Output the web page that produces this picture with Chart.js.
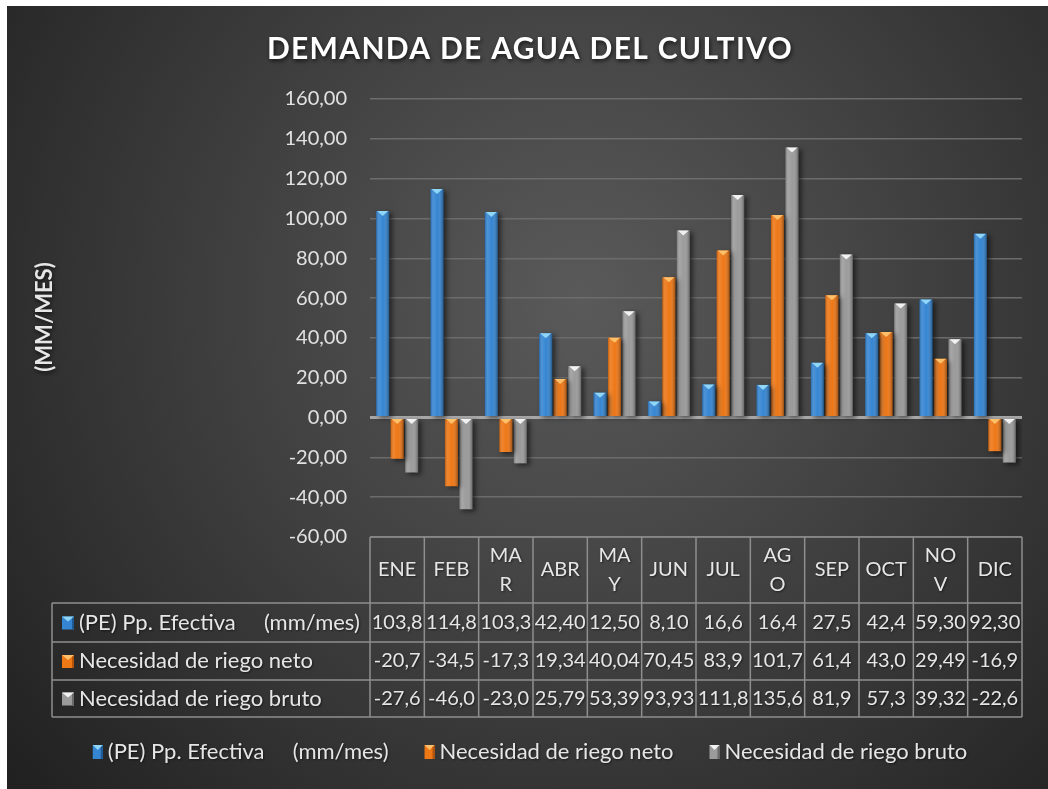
<!DOCTYPE html>
<html>
<head>
<meta charset="utf-8">
<script src="https://cdn.jsdelivr.net/npm/chart.js@4/dist/chart.umd.min.js"></script>
<style>
  body { margin: 0; background: #fff; }
  canvas { display: block; }
</style>
</head>
<body>
<canvas id="demandaChart" width="1048" height="789"></canvas>
<script>
// Datos del grafico
const meses = ['ENE', 'FEB', 'MAR', 'ABR', 'MAY', 'JUN', 'JUL', 'AGO', 'SEP', 'OCT', 'NOV', 'DIC'];
const peEfectiva = [103.8, 114.8, 103.3, 42.40, 12.50, 8.10, 16.6, 16.4, 27.5, 42.4, 59.30, 92.30];
const riegoNeto = [-20.7, -34.5, -17.3, 19.34, 40.04, 70.45, 83.9, 101.7, 61.4, 43.0, 29.49, -16.9];
const riegoBruto = [-27.6, -46.0, -23.0, 25.79, 53.39, 93.93, 111.8, 135.6, 81.9, 57.3, 39.32, -22.6];

// Texto tal como aparece en la tabla de datos
const peTexto = ['103,8', '114,8', '103,3', '42,40', '12,50', '8,10', '16,6', '16,4', '27,5', '42,4', '59,30', '92,30'];
const netoTexto = ['-20,7', '-34,5', '-17,3', '19,34', '40,04', '70,45', '83,9', '101,7', '61,4', '43,0', '29,49', '-16,9'];
const brutoTexto = ['-27,6', '-46,0', '-23,0', '25,79', '53,39', '93,93', '111,8', '135,6', '81,9', '57,3', '39,32', '-22,6'];

const series = ['(PE) Pp. Efectiva     (mm/mes)', 'Necesidad de riego neto', 'Necesidad de riego bruto'];
const yTicks = { min: -60, max: 160, step: 20 };

const FONT = 'Lato, "Open Sans", sans-serif';
const colores = [
  { fill: '#3585d2', light: '#8fd6f7', dark: '#1f5a92' },
  { fill: '#ee7716', light: '#ffc06a', dark: '#b4530a' },
  { fill: '#9b9b9b', light: '#f2f2f2', dark: '#6a6a6a' }
];
const lineaTabla = '#8e8e8e';
const colorTexto = '#e6e6e6';

function fmt(v) {
  return v.toFixed(2).replace('.', ',');
}

// Cabeceras de mes que se parten en dos lineas
function cabecera(m) {
  if (['MAR', 'MAY', 'AGO', 'NOV'].includes(m)) return [m.slice(0, 2), m.slice(2)];
  return [m];
}

function marcador(c, x, y, w, h, col) {
  c.fillStyle = col.fill;
  c.fillRect(x, y, w, h);
  c.fillStyle = col.dark;
  c.fillRect(x + w - 2, y, 2, h);
  c.fillStyle = col.light;
  c.beginPath();
  c.moveTo(x, y);
  c.lineTo(x + w, y);
  c.lineTo(x + w / 2, y + 5);
  c.closePath();
  c.fill();
}

const fondoPlugin = {
  id: 'fondo',
  beforeDraw(chart) {
    const c = chart.ctx;
    const W = chart.width, H = chart.height;
    c.save();
    c.fillStyle = '#ffffff';
    c.fillRect(0, 0, W, H);
    const g = c.createRadialGradient(580, 300, 0, 580, 300, 740);
    g.addColorStop(0, '#5a5a5a');
    g.addColorStop(0.5, '#3e3e3e');
    g.addColorStop(1, '#212121');
    c.fillStyle = g;
    c.fillRect(7, 6, W - 7, H - 6);

    // titulo
    c.shadowColor = 'rgba(0,0,0,0.7)';
    c.shadowBlur = 4;
    c.shadowOffsetX = 1;
    c.shadowOffsetY = 2;
    c.fillStyle = '#ffffff';
    c.font = 'bold 30px ' + FONT;
    c.letterSpacing = '1.3px';
    c.textAlign = 'center';
    c.textBaseline = 'middle';
    c.fillText('DEMANDA DE AGUA DEL CULTIVO', 530, 49);
    c.letterSpacing = '0px';

    // titulo eje Y
    c.translate(45, 317);
    c.rotate(-Math.PI / 2);
    c.font = 'bold 22px ' + FONT;
    c.fillStyle = colorTexto;
    c.fillText('(MM/MES)', 0, 0);
    c.restore();
  },
  beforeDatasetsDraw(chart) {
    const c = chart.ctx;
    c.save();
    c.shadowColor = 'rgba(0,0,0,0.55)';
    c.shadowBlur = 5;
    c.shadowOffsetX = 3;
    c.shadowOffsetY = 2;
  },
  afterDatasetsDraw(chart) {
    const c = chart.ctx;
    c.restore();
    c.save();
    chart.data.datasets.forEach((ds, i) => {
      const col = colores[i];
      chart.getDatasetMeta(i).data.forEach(el => {
        const p = el.getProps(['x', 'y', 'base', 'width'], true);
        const l = p.x - p.width / 2, r = p.x + p.width / 2;
        const top = Math.min(p.y, p.base), bot = Math.max(p.y, p.base);
        const g = c.createLinearGradient(l, 0, r, 0);
        g.addColorStop(0, 'rgba(0,0,0,0.18)');
        g.addColorStop(0.2, 'rgba(255,255,255,0.12)');
        g.addColorStop(0.55, 'rgba(255,255,255,0)');
        g.addColorStop(1, 'rgba(0,0,0,0.35)');
        c.fillStyle = g;
        c.fillRect(l, top, p.width, bot - top);
        // bisel superior
        const bh = Math.min(5, bot - top);
        c.fillStyle = col.light;
        c.beginPath();
        c.moveTo(l + 1, top);
        c.lineTo(r - 1, top);
        c.lineTo(p.x, top + bh);
        c.closePath();
        c.fill();
      });
    });
    c.restore();
  },
  afterDraw(chart) {
    const c = chart.ctx;
    const xs = chart.scales.x;
    const area = chart.chartArea;
    const n = meses.length;
    const colW = (area.right - area.left) / n;
    const yTop = area.bottom, yHead = yTop + 66;
    const filas = [yHead, yHead + 39, yHead + 77, yHead + 114];
    const xLeft = 52;

    c.save();
    c.strokeStyle = lineaTabla;
    c.lineWidth = 1.5;
    c.beginPath();
    c.moveTo(area.left, yTop); c.lineTo(area.right, yTop);
    filas.forEach(y => { c.moveTo(xLeft, y); c.lineTo(area.right, y); });
    c.moveTo(xLeft, yHead); c.lineTo(xLeft, filas[3]);
    for (let i = 0; i <= n; i++) {
      const x = area.left + i * colW;
      c.moveTo(x, yTop); c.lineTo(x, filas[3]);
    }
    c.stroke();

    const sombra = () => {
      c.shadowColor = 'rgba(0,0,0,0.5)';
      c.shadowBlur = 2;
      c.shadowOffsetX = 1;
      c.shadowOffsetY = 1;
    };
    const sinSombra = () => { c.shadowColor = 'transparent'; };

    c.fillStyle = colorTexto;
    c.font = '20px ' + FONT;
    c.textAlign = 'center';
    c.textBaseline = 'middle';
    sombra();
    meses.forEach((m, i) => {
      const x = xs.getPixelForValue(i);
      const lines = cabecera(m);
      const mid = (yTop + yHead) / 2;
      if (lines.length === 1) c.fillText(lines[0], x, mid);
      else { c.fillText(lines[0], x, mid - 14); c.fillText(lines[1], x, mid + 15); }
    });
    const textos = [peTexto, netoTexto, brutoTexto];
    textos.forEach((fila, r) => {
      const y = (filas[r] + filas[r + 1]) / 2;
      c.font = '20px ' + FONT;
      c.textAlign = 'center';
      c.fillStyle = colorTexto;
      sombra();
      fila.forEach((t, i) => {
        c.fillText(t, xs.getPixelForValue(i), y);
      });
      c.font = '22px ' + FONT;
      c.textAlign = 'left';
      c.fillText(series[r], 79, y);
      sinSombra();
      marcador(c, 62, y - 6, 12, 13, colores[r]);
    });

    // leyenda
    c.font = '22px ' + FONT;
    const gap = 36, mk = 10, pad = 5;
    const anchos = series.map(s => mk + pad + c.measureText(s).width);
    const total = anchos.reduce((a, b) => a + b, 0) + gap * (series.length - 1);
    let x = 530 - total / 2;
    const yl = 752;
    c.textAlign = 'left';
    series.forEach((s, i) => {
      sinSombra();
      marcador(c, x, yl - 7, mk, 14, colores[i]);
      sombra();
      c.fillStyle = colorTexto;
      c.fillText(s, x + mk + pad, yl);
      x += anchos[i] + gap;
    });
    c.restore();
  }
};

const datasets = [peEfectiva, riegoNeto, riegoBruto].map((d, i) => ({
  label: series[i],
  data: d,
  backgroundColor: colores[i].fill,
  borderWidth: 0,
  categoryPercentage: 0.8,
  barPercentage: 0.9
}));

new Chart(document.getElementById('demandaChart'), {
  type: 'bar',
  data: { labels: meses, datasets: datasets },
  plugins: [fondoPlugin],
  options: {
    responsive: false,
    animation: false,
    layout: { padding: { top: 99, right: 26, bottom: 72, left: 0 } },
    plugins: {
      legend: { display: false },
      title: { display: false },
      tooltip: { enabled: false }
    },
    scales: {
      x: {
        grid: { display: false },
        border: { display: false },
        ticks: { display: false },
        afterFit(scale) { scale.height = 180; }
      },
      y: {
        min: yTicks.min,
        max: yTicks.max,
        border: { display: false },
        grid: {
          drawTicks: false,
          color: ctx => ctx.tick && ctx.tick.value === 0 ? '#a8a8a8' : '#6c6c6c',
          lineWidth: ctx => ctx.tick && ctx.tick.value === 0 ? 3 : 1.5
        },
        ticks: {
          stepSize: yTicks.step,
          padding: 23,
          color: '#e2e2e2',
          font: { family: FONT, size: 20 },
          callback: v => fmt(v)
        },
        afterFit(scale) { scale.width = 370; }
      }
    }
  }
});
</script>
</body>
</html>
